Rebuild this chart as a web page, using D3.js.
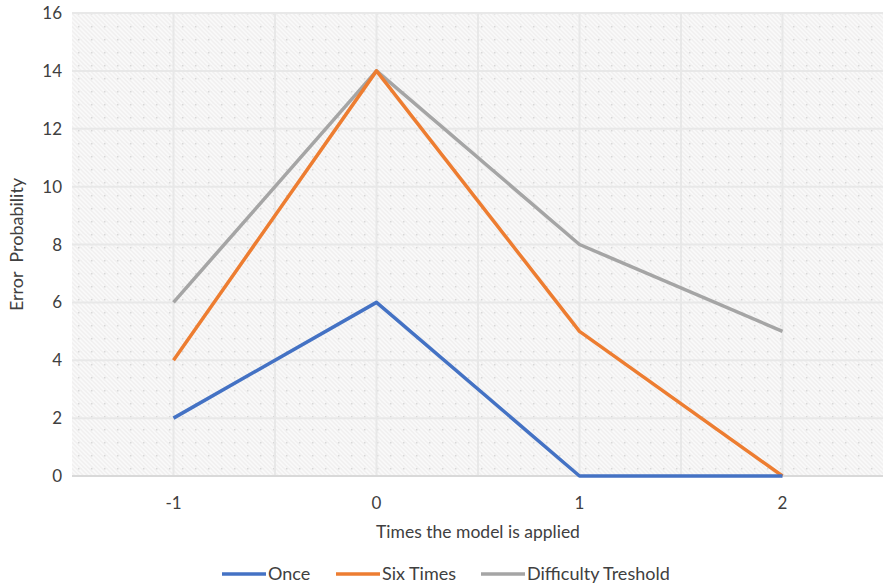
<!DOCTYPE html>
<html lang="en">
<head>
  <meta charset="UTF-8">
  <title>Error Probability</title>
  <script src="https://d3js.org/d3.v7.min.js"></script>
  <style>
    body { margin: 0; background: #fff; font-family: Lato, "Open Sans", sans-serif; }
    text { fill: #404040; }
  </style>
</head>
<body>
  <script>
    // datos
    const categories = [-1, 0, 1, 2];
    const once = [2, 6, 0, 0];
    const sixTimes = [4, 14, 5, 0];
    const treshold = [6, 14, 8, 5];
    const yTicks = [0, 2, 4, 6, 8, 10, 12, 14, 16];
    const seriesNames = ["Once", "Six Times", "Difficulty Treshold"];
    const colors = ["#4472C4", "#ED7D31", "#A5A5A5"];

    const width = 883, height = 585;
    const pLeft = 72, pRight = 884, pTop = 13, pBottom = 476;
    const fs = 17;

    const svg = d3.select("body").append("svg")
      .attr("width", width).attr("height", height);

    // relleno del área (rayado + puntos)
    const defs = svg.append("defs");
    const pat = defs.append("pattern")
      .attr("id", "hatch").attr("patternUnits", "userSpaceOnUse")
      .attr("width", 13).attr("height", 13);
    pat.append("rect").attr("width", 13).attr("height", 13).attr("fill", "#f1f0f0");
    for (let k = -13; k <= 13; k += 4.33) {
      pat.append("line")
        .attr("x1", k).attr("y1", 0).attr("x2", k + 13).attr("y2", 13)
        .attr("stroke", "#fafafa").attr("stroke-width", 1.6);
    }
    pat.append("rect").attr("x", 0).attr("y", 0).attr("width", 1.5).attr("height", 1.5).attr("fill", "#d8d8d8");

    const x = d3.scaleLinear().domain([-1.5, 2.5]).range([pLeft, pRight]);
    const y = d3.scaleLinear().domain([0, 16]).range([pBottom, pTop]);

    svg.append("rect")
      .attr("x", pLeft).attr("y", pTop)
      .attr("width", pRight - pLeft).attr("height", pBottom - pTop)
      .attr("fill", "url(#hatch)");

    // rejilla
    svg.append("g").selectAll("line")
      .data(yTicks.slice(1))
      .join("line")
      .attr("x1", pLeft).attr("x2", pRight)
      .attr("y1", d => y(d)).attr("y2", d => y(d))
      .attr("stroke", "#e8e8e8").attr("stroke-width", 2);

    svg.append("g").selectAll("line")
      .data(d3.range(-1, 2.51, 0.5))
      .join("line")
      .attr("x1", d => x(d)).attr("x2", d => x(d))
      .attr("y1", pTop).attr("y2", pBottom)
      .attr("stroke", "#e8e8e8").attr("stroke-width", 2);

    // eje X
    svg.append("line")
      .attr("x1", pLeft).attr("x2", pRight)
      .attr("y1", pBottom).attr("y2", pBottom)
      .attr("stroke", "#d9d9d9").attr("stroke-width", 2);

    svg.append("g").selectAll("text")
      .data(categories)
      .join("text")
      .attr("x", d => x(d)).attr("y", pBottom + 33)
      .attr("text-anchor", "middle")
      .attr("font-size", fs)
      .text(d => d);

    // eje Y
    svg.append("g").selectAll("text")
      .data(yTicks)
      .join("text")
      .attr("x", 62).attr("y", d => y(d) + 6)
      .attr("text-anchor", "end")
      .attr("font-size", fs)
      .text(d => d);

    svg.append("text")
      .attr("transform", `translate(23, ${(pTop + pBottom) / 2}) rotate(-90)`)
      .attr("text-anchor", "middle")
      .attr("font-size", 18)
      .attr("xml:space", "preserve")
      .text("Error  Probability");

    svg.append("text")
      .attr("x", (pLeft + pRight) / 2).attr("y", 538)
      .attr("text-anchor", "middle")
      .attr("font-size", 17.5)
      .text("Times the model is applied");

    // líneas
    const line = d3.line()
      .x((d, i) => x(categories[i]))
      .y(d => y(d));

    [once, sixTimes, treshold].slice().reverse().forEach((s, j) => {
      const i = 2 - j;
      svg.append("path")
        .datum(s)
        .attr("d", line)
        .attr("fill", "none")
        .attr("stroke", colors[i])
        .attr("stroke-width", 3.5)
        .attr("stroke-linejoin", "round");
    });

    // leyenda
    const legendX = [222, 336, 481];
    const lg = svg.append("g");
    seriesNames.forEach((n, i) => {
      lg.append("line")
        .attr("x1", legendX[i]).attr("x2", legendX[i] + 44)
        .attr("y1", 574).attr("y2", 574)
        .attr("stroke", colors[i]).attr("stroke-width", 3.5);
      lg.append("text")
        .attr("x", legendX[i] + 46).attr("y", 580)
        .attr("font-size", 18)
        .text(n);
    });
  </script>
</body>
</html>
